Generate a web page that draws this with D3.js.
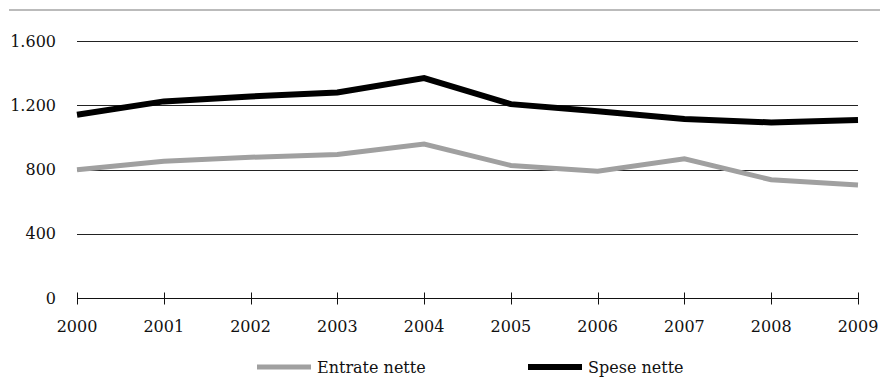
<!DOCTYPE html>
<html>
<head>
<meta charset="utf-8">
<script src="https://cdn.jsdelivr.net/npm/d3@7"></script>
<style>
  html, body { margin: 0; padding: 0; background: #fff; }
  svg { display: block; }
  text { font-family: "DejaVu Serif", serif; font-size: 16px; fill: #111; }
</style>
</head>
<body>
<svg id="chart" width="880" height="378"></svg>
<script>
// Anni e serie (valori in milioni)
const years = [2000, 2001, 2002, 2003, 2004, 2005, 2006, 2007, 2008, 2009];
const entrateNette = [798, 852, 876, 893, 959, 825, 789, 866, 736, 703];
const speseNette = [1141, 1224, 1255, 1279, 1369, 1207, 1162, 1114, 1093, 1108];
const yTicks = [0, 400, 800, 1200, 1600];
const seriesNames = ["Entrate nette", "Spese nette"];
const seriesColors = ["#a0a0a0", "#000000"];
const seriesWidths = [5, 6];

const svg = d3.select("#chart");
const fmt = d3.formatLocale({ decimal: ",", thousands: ".", grouping: [3], currency: ["€", ""] }).format(",d");

const x = d3.scaleLinear().domain([2000, 2009]).range([77, 858]);
const y = d3.scaleLinear().domain([0, 1600]).range([298, 41]);

// Filetto superiore
svg.append("line")
  .attr("x1", 9).attr("x2", 880).attr("y1", 10).attr("y2", 10)
  .attr("stroke", "#bbbbbb").attr("stroke-width", 2);

// Griglia orizzontale
svg.append("g")
  .selectAll("line")
  .data(yTicks.filter(d => d > 0))
  .join("line")
  .attr("x1", x(2000)).attr("x2", x(2009))
  .attr("y1", d => Math.round(y(d)) + 0.5).attr("y2", d => Math.round(y(d)) + 0.5)
  .attr("stroke", "#222").attr("stroke-width", 1);

// Etichette asse Y
svg.append("g")
  .selectAll("text")
  .data(yTicks)
  .join("text")
  .attr("x", 56)
  .attr("y", d => y(d))
  .attr("dy", "0.35em")
  .attr("text-anchor", "end")
  .text(d => fmt(d));

// Asse X con tacche che attraversano la linea
const xAxis = svg.append("g").attr("transform", `translate(0,${Math.round(y(0)) + 0.5})`);
xAxis.append("line")
  .attr("x1", x(2000)).attr("x2", x(2009))
  .attr("stroke", "#111").attr("stroke-width", 1);
xAxis.selectAll("line.tick")
  .data(years)
  .join("line")
  .attr("class", "tick")
  .attr("x1", d => Math.round(x(d)) + 0.5).attr("x2", d => Math.round(x(d)) + 0.5)
  .attr("y1", -6).attr("y2", 6)
  .attr("stroke", "#111").attr("stroke-width", 1);
xAxis.selectAll("text")
  .data(years)
  .join("text")
  .attr("x", d => x(d))
  .attr("y", 33)
  .attr("text-anchor", "middle")
  .text(d => d);

// Linee delle serie
const line = d3.line().x((d, i) => x(years[i])).y(d => y(d));
[entrateNette, speseNette].forEach((vals, k) => {
  svg.append("path")
    .datum(vals)
    .attr("d", line)
    .attr("fill", "none")
    .attr("stroke", seriesColors[k])
    .attr("stroke-width", seriesWidths[k])
    .attr("stroke-linejoin", "miter");
});

// Legenda
const legendX = [257, 528];
const legend = svg.append("g");
seriesNames.forEach((name, k) => {
  legend.append("line")
    .attr("x1", legendX[k]).attr("x2", legendX[k] + 54)
    .attr("y1", 367).attr("y2", 367)
    .attr("stroke", seriesColors[k]).attr("stroke-width", seriesWidths[k]);
  legend.append("text")
    .attr("x", legendX[k] + 60)
    .attr("y", 367)
    .attr("dy", "0.35em")
    .text(name);
});
</script>
</body>
</html>
